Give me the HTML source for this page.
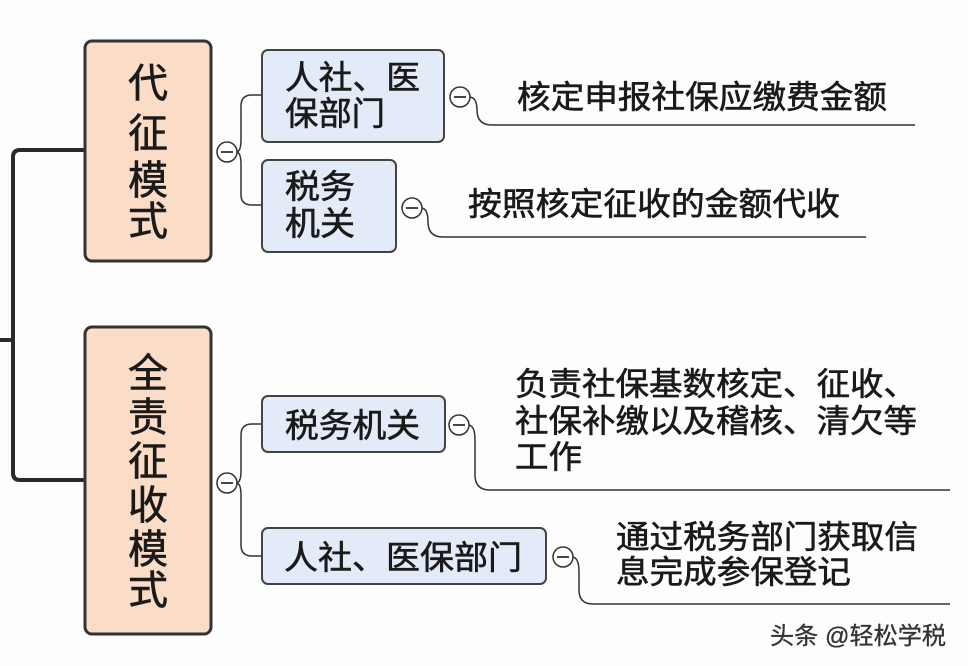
<!DOCTYPE html>
<html><head><meta charset="utf-8"><style>
body{margin:0;background:#fdfdfd;}
svg{display:block}
text{font-family:"Liberation Sans","Noto Sans CJK SC",sans-serif;fill:#1a1a1a;stroke:#1a1a1a;stroke-width:0.6;}
</style></head><body>
<svg width="968" height="666" viewBox="0 0 968 666" xmlns="http://www.w3.org/2000/svg">
<rect width="968" height="666" fill="#fdfdfd"/>
<path d="M84 150 H20 Q13 150 13 157 V473 Q13 480 20 480 H84" fill="none" stroke="#2a2a2a" stroke-width="4"/>
<line x1="0" y1="340" x2="13" y2="340" stroke="#2a2a2a" stroke-width="4"/>
<rect x="85" y="41" width="126" height="220" rx="7" fill="#fbdcc6" stroke="#333" stroke-width="3"/>
<rect x="85" y="327" width="126" height="307" rx="7" fill="#fbdcc6" stroke="#333" stroke-width="3"/>
<g font-size="40" text-anchor="middle">
<text x="148" y="97">代</text><text x="148" y="147">征</text><text x="148" y="194">模</text><text x="148" y="235">式</text>
<text x="148" y="387">全</text><text x="148" y="431">责</text><text x="148" y="475">征</text><text x="148" y="519">收</text><text x="148" y="563">模</text><text x="148" y="604">式</text>
</g>
<g fill="none" stroke="#333" stroke-width="1.5">
<path d="M236 152 Q241 152 241 140 V106 Q241 95 252 95 H261"/>
<path d="M236 152 Q241 152 241 164 V195 Q241 205 252 205 H261"/>
<path d="M236 483 Q241 483 241 471 V435 Q241 424 252 424 H261"/>
<path d="M236 483 Q241 483 241 495 V545 Q241 556 252 556 H261"/>
<path d="M469 97 Q477 97 477 110 Q477 125 492 125 H915"/>
<path d="M421 208 Q428 208 428 222 Q428 237 443 237 H866"/>
<path d="M468 425 Q475 425 475 440 V475 Q475 490 490 490 H950"/>
<path d="M572 557 Q579 557 579 572 V590 Q579 604 593 604 H950"/>
</g>
<g fill="#e4ebf8" stroke="#444" stroke-width="2">
<rect x="262" y="50" width="182" height="92" rx="6"/>
<rect x="262" y="160" width="134" height="92" rx="6"/>
<rect x="262" y="396" width="183" height="56" rx="6"/>
<rect x="262" y="528" width="284" height="56" rx="6"/>
</g>
<g fill="#fff" stroke="#333" stroke-width="1.5">
<circle cx="227" cy="152" r="10"/><circle cx="227" cy="483" r="10"/>
<circle cx="460" cy="97" r="10"/><circle cx="412" cy="208" r="10"/>
<circle cx="459" cy="425" r="10"/><circle cx="563" cy="557" r="10"/>
</g>
<g stroke="#333" stroke-width="1.8">
<line x1="221" y1="152" x2="233" y2="152"/><line x1="221" y1="483" x2="233" y2="483"/>
<line x1="454" y1="97" x2="466" y2="97"/><line x1="406" y1="208" x2="418" y2="208"/>
<line x1="453" y1="425" x2="465" y2="425"/><line x1="557" y1="557" x2="569" y2="557"/>
</g>
<g font-size="33">
<text x="285" y="89" textLength="135" lengthAdjust="spacingAndGlyphs">人社、医</text>
<text x="285" y="125" textLength="100" lengthAdjust="spacingAndGlyphs">保部门</text>
<text x="285" y="198" textLength="70" lengthAdjust="spacingAndGlyphs">税务</text>
<text x="285" y="235" textLength="70" lengthAdjust="spacingAndGlyphs">机关</text>
<text x="285" y="437" textLength="135" lengthAdjust="spacingAndGlyphs">税务机关</text>
<text x="284" y="569" textLength="238" lengthAdjust="spacingAndGlyphs">人社、医保部门</text>
</g>
<g font-size="32">
<text x="517" y="108" textLength="370" lengthAdjust="spacingAndGlyphs">核定申报社保应缴费金额</text>
<text x="468" y="215" textLength="372" lengthAdjust="spacingAndGlyphs">按照核定征收的金额代收</text>
<text x="515" y="395" textLength="402" lengthAdjust="spacingAndGlyphs">负责社保基数核定、征收、</text>
<text x="515" y="432" textLength="402" lengthAdjust="spacingAndGlyphs">社保补缴以及稽核、清欠等</text>
<text x="515" y="468" textLength="67" lengthAdjust="spacingAndGlyphs">工作</text>
<text x="616" y="548" textLength="302" lengthAdjust="spacingAndGlyphs">通过税务部门获取信</text>
<text x="616" y="583" textLength="235" lengthAdjust="spacingAndGlyphs">息完成参保登记</text>
</g>
<text x="770" y="644" font-size="24" textLength="176" lengthAdjust="spacingAndGlyphs" style="fill:#333;stroke:#333;stroke-width:0.3">头条 @轻松学税</text>
</svg>
</body></html>
